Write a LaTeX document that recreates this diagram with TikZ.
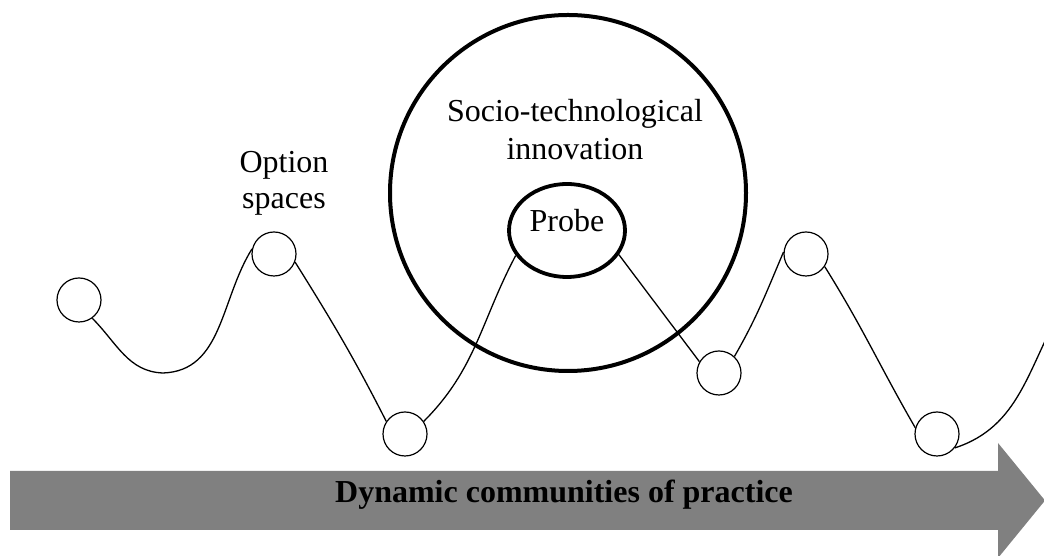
\documentclass[tikz,border=0pt]{standalone}
\usepackage{fontspec}
\setmainfont{Liberation Serif}
\usetikzlibrary{shapes.geometric}
\definecolor{arrowgray}{RGB}{128,128,128}
\begin{document}
\begin{tikzpicture}[x=1pt,y=1pt,
  opt/.style={circle,draw,line width=1.2pt,fill=white,minimum size=44pt,inner sep=0pt},
  link/.style={line width=1.3pt},
  lbl/.style={font=\fontsize{32}{37}\selectfont,inner sep=0pt,anchor=base}]
\useasboundingbox (0,0) rectangle (1044,556);
\clip (0,0) rectangle (1044,556);
% time arrow
\fill[arrowgray] (10,85) -- (998,85) -- (998,113) -- (1045,55.5) -- (998,-2) -- (998,26) -- (10,26) -- cycle;
\node[lbl,font=\fontsize{32}{37}\selectfont\bfseries] (dyn) at (564,53) {Dynamic communities of practice};
% innovation circle
\node[circle,draw,line width=4pt,minimum size=356pt,inner sep=0pt] (inno) at (568,363) {};
\node[lbl] (socio1) at (575,434) {Socio-technological};
\node[lbl] (socio2) at (575,396) {innovation};
% probe
\node[ellipse,draw,line width=3.8pt,fill=white,minimum width=116pt,minimum height=93pt,inner sep=0pt] (probe) at (567,325.5) {};
\node[lbl] (probetxt) at (567,324) {Probe};
% option spaces label
\node[lbl] (opt1) at (284,383) {Option};
\node[lbl] (opt2) at (284,347) {spaces};
% option circles
\node[opt] (c1) at (79,256) {};
\node[opt] (c2) at (274,302) {};
\node[opt] (c3) at (405,122) {};
\node[opt] (c4) at (719,183) {};
\node[opt] (c5) at (806,302) {};
\node[opt] (c6) at (937,122) {};
\coordinate (m1) at (163,183);
\coordinate (tail) at (1062,248);
% trajectory
\draw[link] (c1.-54) to[out=-45,in=178] (m1) to[out=2,in=-122] (c2.167);
\draw[link] (c2.-21) to[out=-58,in=117] (c3.146);
\draw[link] (c3.34) to[out=45,in=-118] (probe.206);
\draw[link] (probe.-25) -- (c4.150);
\draw[link] (c4.47) to[out=60,in=-113] (c5.175);
\draw[link] (c5.-34) to[out=-58,in=120] (c6.164);
\draw[link] (c6.-38) to[out=18,in=-120] (tail);
\end{tikzpicture}
\end{document}
